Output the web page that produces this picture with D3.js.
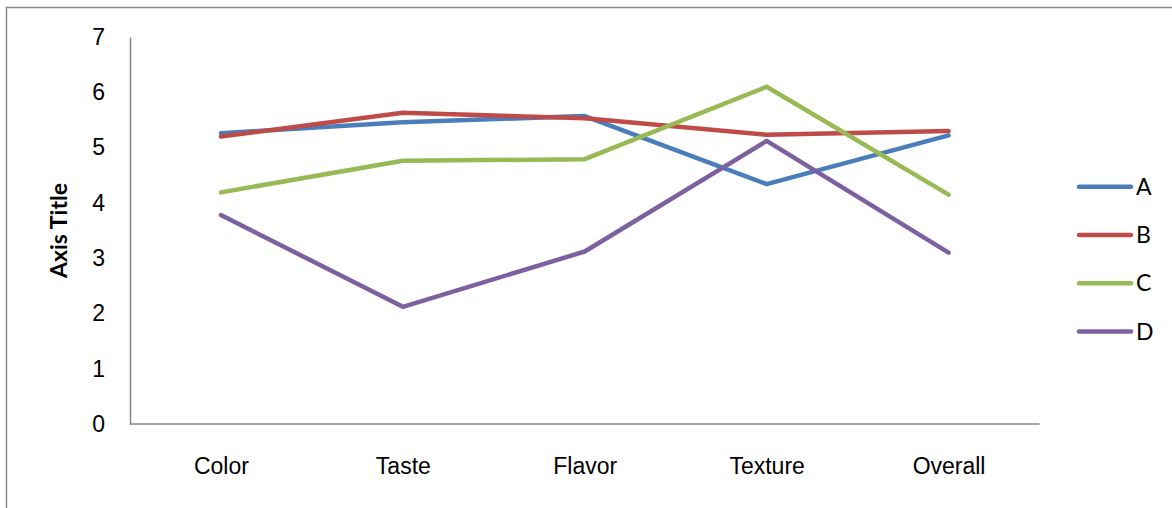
<!DOCTYPE html>
<html>
<head>
<meta charset="utf-8">
<script src="https://cdn.jsdelivr.net/npm/d3@7"></script>
<style>
  html, body { margin: 0; padding: 0; background: #fff; }
  svg { display: block; font-family: Lato, "Open Sans", sans-serif; }
</style>
</head>
<body>
<svg id="chart" width="1172" height="508"></svg>
<script>
// Sensory scores per attribute
const categories = ["Color", "Taste", "Flavor", "Texture", "Overall"];
const seriesNames = ["A", "B", "C", "D"];
const valuesA = [5.26, 5.46, 5.57, 4.34, 5.22];
const valuesB = [5.20, 5.63, 5.53, 5.23, 5.30];
const valuesC = [4.19, 4.76, 4.79, 6.10, 4.15];
const valuesD = [3.78, 2.12, 3.12, 5.12, 3.10];
const yTicks = [0, 1, 2, 3, 4, 5, 6, 7];
const yTitle = "Axis Title";

const seriesColors = ["#4A7EBB", "#BE4B48", "#98B954", "#7D60A0"];
const series = [valuesA, valuesB, valuesC, valuesD].map((v, i) => ({ name: seriesNames[i], values: v, color: seriesColors[i] }));

const svg = d3.select("#chart");
const W = 1172, H = 508;
const plot = { left: 130, right: 1039.5, top: 37, bottom: 424 };
const fontSize = 23;

// chart frame
svg.append("path")
  .attr("d", `M6.5,${H + 5} L6.5,7.5 L${W + 5},7.5`)
  .attr("fill", "none").attr("stroke", "#8a8a8a").attr("stroke-width", 1.5);

const x = d3.scalePoint().domain(categories).range([plot.left, plot.right]).padding(0.5);
const y = d3.scaleLinear().domain([0, 7]).range([plot.bottom, plot.top]);

// y axis
const yAxis = svg.append("g").attr("transform", `translate(${plot.left},0)`)
  .call(d3.axisLeft(y).tickValues(yTicks).tickFormat(d3.format("d")).tickSize(0).tickPadding(25));
yAxis.select(".domain").attr("stroke", "#868686").attr("stroke-width", 1.5);
yAxis.selectAll("text").attr("font-size", fontSize).attr("fill", "#000").attr("font-family", null);

// x axis
const xAxis = svg.append("g").attr("transform", `translate(0,${plot.bottom})`)
  .call(d3.axisBottom(x).tickSize(0).tickPadding(34));
xAxis.select(".domain").attr("stroke", "#868686").attr("stroke-width", 1.5)
  .attr("d", `M${plot.left},0H${plot.right}`);
xAxis.selectAll("text").attr("font-size", fontSize).attr("fill", "#000").attr("font-family", null);

// y axis title
svg.append("text")
  .attr("transform", `translate(67,${(plot.top + plot.bottom) / 2}) rotate(-90)`)
  .attr("text-anchor", "middle")
  .attr("font-size", 23).attr("font-weight", "bold")
  .text(yTitle);

// series lines
const line = d3.line().x((d, i) => x(categories[i])).y(d => y(d));
svg.append("g").selectAll("path").data(series).join("path")
  .attr("d", d => line(d.values))
  .attr("fill", "none")
  .attr("stroke", d => d.color)
  .attr("stroke-width", 4.5)
  .attr("stroke-linejoin", "round")
  .attr("stroke-linecap", "round");

// legend
const legend = svg.append("g").selectAll("g").data(series).join("g")
  .attr("transform", (d, i) => `translate(1079,${186.7 + i * 48.3})`);
legend.append("line")
  .attr("x1", 0).attr("x2", 52).attr("y1", 0).attr("y2", 0)
  .attr("stroke", d => d.color).attr("stroke-width", 4.5).attr("stroke-linecap", "round");
legend.append("text")
  .attr("x", 57).attr("dy", "0.35em")
  .attr("font-size", fontSize)
  .text(d => d.name);
</script>
</body>
</html>
